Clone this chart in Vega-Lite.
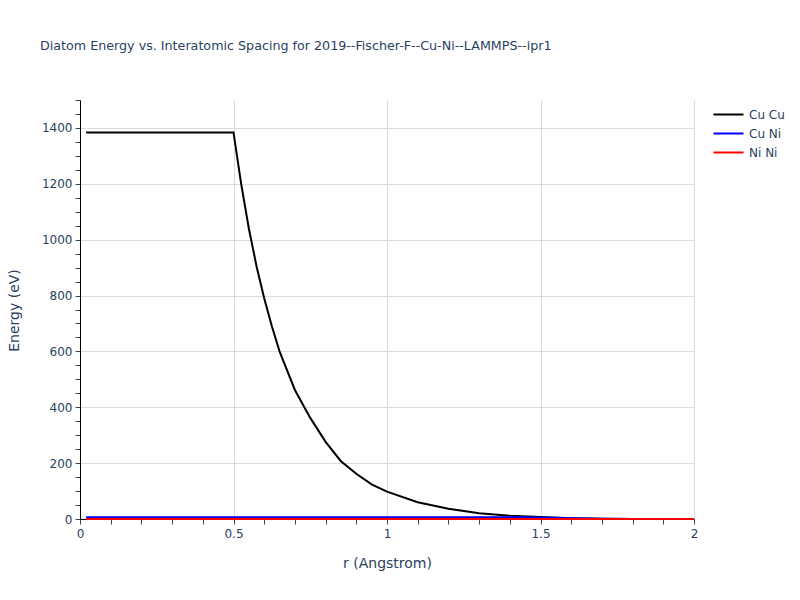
{
  "$schema": "https://vega.github.io/schema/vega-lite/v6.json",
  "width": 614,
  "height": 419,
  "autosize": "none",
  "padding": {"left": 80, "top": 100, "right": 106, "bottom": 81},
  "background": "white",
  "config": {
    "view": {"stroke": null},
    "font": "DejaVu Sans"
  },
  "title": {
    "text": "Diatom Energy vs. Interatomic Spacing for 2019--Fischer-F--Cu-Ni--LAMMPS--ipr1",
    "anchor": "start",
    "frame": "group",
    "dx": -40,
    "offset": 47,
    "fontSize": 12.7,
    "fontWeight": "normal",
    "color": "#2a3f5f"
  },
  "data": {
    "values": [
      {"pair": "Cu Cu", "r": 0.02, "energy": 1384},
      {"pair": "Cu Cu", "r": 0.25, "energy": 1384},
      {"pair": "Cu Cu", "r": 0.5, "energy": 1384},
      {"pair": "Cu Cu", "r": 0.525, "energy": 1200},
      {"pair": "Cu Cu", "r": 0.55, "energy": 1040},
      {"pair": "Cu Cu", "r": 0.575, "energy": 905},
      {"pair": "Cu Cu", "r": 0.6, "energy": 790},
      {"pair": "Cu Cu", "r": 0.625, "energy": 690},
      {"pair": "Cu Cu", "r": 0.65, "energy": 600},
      {"pair": "Cu Cu", "r": 0.7, "energy": 462},
      {"pair": "Cu Cu", "r": 0.75, "energy": 362},
      {"pair": "Cu Cu", "r": 0.8, "energy": 276},
      {"pair": "Cu Cu", "r": 0.85, "energy": 207},
      {"pair": "Cu Cu", "r": 0.9, "energy": 162},
      {"pair": "Cu Cu", "r": 0.95, "energy": 124},
      {"pair": "Cu Cu", "r": 1.0, "energy": 98},
      {"pair": "Cu Cu", "r": 1.1, "energy": 60},
      {"pair": "Cu Cu", "r": 1.2, "energy": 37},
      {"pair": "Cu Cu", "r": 1.3, "energy": 21},
      {"pair": "Cu Cu", "r": 1.4, "energy": 12},
      {"pair": "Cu Cu", "r": 1.5, "energy": 7},
      {"pair": "Cu Cu", "r": 1.6, "energy": 3},
      {"pair": "Cu Cu", "r": 1.7, "energy": 1},
      {"pair": "Cu Cu", "r": 1.8, "energy": 0},
      {"pair": "Cu Cu", "r": 2.0, "energy": 0},
      {"pair": "Cu Ni", "r": 0.02, "energy": 6},
      {"pair": "Cu Ni", "r": 1.45, "energy": 6},
      {"pair": "Cu Ni", "r": 1.5, "energy": 5},
      {"pair": "Cu Ni", "r": 1.6, "energy": 3},
      {"pair": "Cu Ni", "r": 1.7, "energy": 1},
      {"pair": "Cu Ni", "r": 1.8, "energy": 0},
      {"pair": "Cu Ni", "r": 2.0, "energy": 0},
      {"pair": "Ni Ni", "r": 0.02, "energy": 0.3},
      {"pair": "Ni Ni", "r": 1.6, "energy": 0.3},
      {"pair": "Ni Ni", "r": 1.7, "energy": 0.1},
      {"pair": "Ni Ni", "r": 2.0, "energy": 0}
    ]
  },
  "mark": {"type": "line", "strokeWidth": 2, "clip": false},
  "encoding": {
    "x": {
      "field": "r",
      "type": "quantitative",
      "scale": {"domain": [0, 2], "nice": false, "zero": false},
      "axis": {
        "title": "r (Angstrom)",
        "titleFontSize": 14,
        "titleFontWeight": "normal",
        "titleColor": "#2a3f5f",
        "titleX": 307,
        "titleY": 44,
        "titleBaseline": "middle",
        "values": [0, 0.1, 0.2, 0.3, 0.4, 0.5, 0.6, 0.7, 0.8, 0.9, 1, 1.1, 1.2, 1.3, 1.4, 1.5, 1.6, 1.7, 1.8, 1.9, 2],
        "format": "~g",
        "labelExpr": "abs(datum.value * 2 - round(datum.value * 2)) < 0.001 ? datum.label : ''",
        "labelFlush": false,
        "labelFontSize": 12,
        "labelColor": "#2a3f5f",
        "labelPadding": 4,
        "tickSize": 5,
        "tickColor": "#444",
        "domainColor": "#000",
        "grid": true,
        "gridColor": "#d9d9d9",
        "gridOpacity": {"condition": {"test": "abs(datum.value * 2 - round(datum.value * 2)) < 0.001", "value": 1}, "value": 0}
      }
    },
    "y": {
      "field": "energy",
      "type": "quantitative",
      "scale": {"domain": [0, 1500], "nice": false},
      "axis": {
        "title": "Energy (eV)",
        "titleFontSize": 14,
        "titleFontWeight": "normal",
        "titleColor": "#2a3f5f",
        "titleX": -66,
        "titleY": 210,
        "titleBaseline": "middle",
        "values": [0, 50, 100, 150, 200, 250, 300, 350, 400, 450, 500, 550, 600, 650, 700, 750, 800, 850, 900, 950, 1000, 1050, 1100, 1150, 1200, 1250, 1300, 1350, 1400, 1450, 1500],
        "format": "d",
        "labelExpr": "datum.value % 200 == 0 ? datum.label : ''",
        "labelFontSize": 12,
        "labelColor": "#2a3f5f",
        "labelPadding": 3,
        "tickSize": 5,
        "tickColor": "#444",
        "domainColor": "#000",
        "grid": true,
        "gridColor": "#dcdcdc",
        "gridOpacity": {"condition": {"test": "datum.value % 200 == 0", "value": 1}, "value": 0}
      }
    },
    "color": {
      "field": "pair",
      "type": "nominal",
      "scale": {"domain": ["Cu Cu", "Cu Ni", "Ni Ni"], "range": ["black", "blue", "red"]},
      "legend": {
        "title": null,
        "orient": "none",
        "legendX": 640,
        "legendY": 6,
        "padding": 0,
        "symbolType": "M-2,0H2",
        "symbolSize": 225,
        "symbolStrokeWidth": 2,
        "labelOffset": 12,
        "labelFontSize": 12,
        "labelColor": "#2a3f5f",
        "rowPadding": 4
      }
    }
  }
}
